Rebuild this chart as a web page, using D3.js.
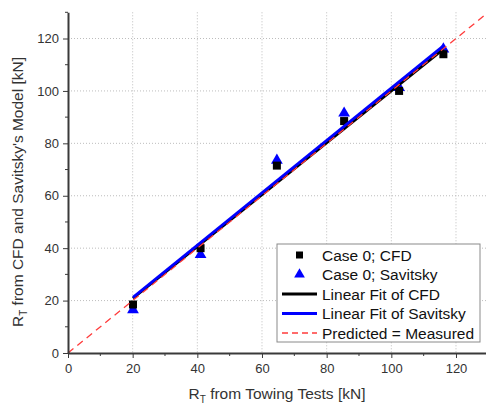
<!DOCTYPE html>
<html>
<head>
<meta charset="utf-8">
<script src="https://cdn.jsdelivr.net/npm/d3@7"></script>
<style>
  body { margin: 0; background: #fff; }
  svg { display: block; font-family: Arial, "Liberation Sans", sans-serif; }
  .grid line { stroke: #bdbdbd; stroke-width: 1; stroke-dasharray: 1,2; }
  .axis path, .axis line { stroke: #3a3a3a; }
  .axis text { fill: #333; font-size: 13px; }
</style>
</head>
<body>
<svg id="chart" width="486" height="408"></svg>
<script>
// measured resistance from towing tests [kN]
const towing = [20.1, 41.0, 64.6, 85.4, 102.4, 116.1];
const cfd = [18.5, 40.0, 71.5, 88.5, 100.0, 114.0];
const savitsky = [16.5, 37.5, 73.5, 91.5, 101.3, 116.0];
// linear fits as drawn in the source figure: [intercept, slope]
const fitCFD = [1.0, 0.99];
const fitSavitsky = [1.1, 1.0];
const majorTicks = [0, 20, 40, 60, 80, 100, 120];
const legendItems = ['Case 0; CFD', 'Case 0; Savitsky', 'Linear Fit of CFD', 'Linear Fit of Savitsky', 'Predicted = Measured'];

const svg = d3.select('#chart');
const x = d3.scaleLinear().domain([0, 130]).range([68, 68 + 130 * 3.2333]);
const y = d3.scaleLinear().domain([0, 130]).range([353, 12.3]);

// grid
const g = svg.append('g').attr('class', 'grid');
g.selectAll('.vx').data(majorTicks.slice(1)).join('line')
  .attr('x1', (d) => x(d)).attr('x2', (d) => x(d))
  .attr('y1', y(130)).attr('y2', y(0));
g.selectAll('.hy').data(majorTicks.slice(1)).join('line')
  .attr('x1', x(0)).attr('x2', x(130))
  .attr('y1', (d) => y(d)).attr('y2', (d) => y(d));

// points
const pts = svg.append('g');
pts.selectAll('path.tri').data(towing).join('path')
  .attr('d', d3.symbol(d3.symbolTriangle, 60))
  .attr('transform', (d, i) => `translate(${x(d)},${y(savitsky[i])})`)
  .attr('fill', '#0000ff');
pts.selectAll('rect').data(towing).join('rect')
  .attr('x', (d) => x(d) - 4).attr('y', (d, i) => y(cfd[i]) - 4)
  .attr('width', 8).attr('height', 8).attr('fill', '#000');

// fit lines
const x0 = d3.min(towing), x1 = d3.max(towing);
const line = d3.line().x((d) => x(d[0])).y((d) => y(d[1]));
[[fitCFD, '#000'], [fitSavitsky, '#0000ff']].forEach(([f, c]) => {
  svg.append('path')
    .attr('d', line([[x0, f[0] + f[1] * x0], [x1, f[0] + f[1] * x1]]))
    .attr('stroke', c).attr('stroke-width', 2.8).attr('fill', 'none');
});
svg.append('path')
  .attr('d', line([[0, 0], [130, 130]]))
  .attr('stroke', '#ff3b3b').attr('stroke-width', 1.3)
  .attr('stroke-dasharray', '7,5').attr('fill', 'none');

// axes
const xa = svg.append('g').attr('class', 'axis').attr('transform', `translate(0,${y(0)})`)
  .call(d3.axisBottom(x).tickValues(majorTicks).tickSize(5).tickPadding(6).tickSizeOuter(0));
xa.select('.domain').attr('stroke-width', 2);
xa.selectAll('.mt').data(d3.range(10, 130, 20)).join('line')
  .attr('x1', (d) => x(d)).attr('x2', (d) => x(d)).attr('y1', 0).attr('y2', 3)
  .attr('stroke', '#3a3a3a');
const ya = svg.append('g').attr('class', 'axis').attr('transform', `translate(${x(0)},0)`)
  .call(d3.axisLeft(y).tickValues(majorTicks).tickSize(5).tickPadding(4).tickSizeOuter(0));
ya.select('.domain').attr('stroke-width', 2);
ya.selectAll('.mt').data(d3.range(10, 140, 20)).join('line')
  .attr('y1', (d) => y(d)).attr('y2', (d) => y(d)).attr('x1', 0).attr('x2', -3)
  .attr('stroke', '#3a3a3a');

// axis titles
const xt = svg.append('text').attr('x', 277).attr('y', 399).attr('text-anchor', 'middle')
  .attr('font-size', 15.5).attr('fill', '#333');
xt.append('tspan').text('R');
xt.append('tspan').attr('font-size', 10).attr('dy', 4).text('T');
xt.append('tspan').attr('dy', -4).text(' from Towing Tests [kN]');
const yt = svg.append('text').attr('transform', 'translate(23,192) rotate(-90)').attr('text-anchor', 'middle')
  .attr('font-size', 15.5).attr('fill', '#333');
yt.append('tspan').text('R');
yt.append('tspan').attr('font-size', 10).attr('dy', 4).text('T');
yt.append('tspan').attr('dy', -4).text(' from CFD and Savitsky\'s Model [kN]');

// legend
const lg = svg.append('g').attr('transform', 'translate(277,244)');
lg.append('rect').attr('width', 203).attr('height', 98)
  .attr('fill', '#fff').attr('stroke', '#8a8a8a').attr('stroke-width', 1);
const rows = lg.selectAll('g.row').data(legendItems).join('g')
  .attr('transform', (d, i) => `translate(0,${11 + i * 19.5})`);
rows.append('text').attr('x', 45).attr('y', 5.5).attr('font-size', 15.5).attr('fill', '#111').text((d) => d);
rows.filter((d, i) => i === 0).append('rect').attr('x', 19).attr('y', -3.5).attr('width', 7).attr('height', 7).attr('fill', '#000');
rows.filter((d, i) => i === 1).append('path').attr('d', d3.symbol(d3.symbolTriangle, 50))
  .attr('transform', 'translate(22.5,0)').attr('fill', '#0000ff');
rows.filter((d, i) => i >= 2).append('line')
  .attr('x1', 5).attr('x2', 40).attr('y1', 0).attr('y2', 0)
  .attr('stroke', (d, i) => ['#000', '#0000ff', '#ff3b3b'][i])
  .attr('stroke-width', (d, i) => (i === 2 ? 1.3 : 2.8))
  .attr('stroke-dasharray', (d, i) => (i === 2 ? '6,4' : null));
</script>
</body>
</html>
